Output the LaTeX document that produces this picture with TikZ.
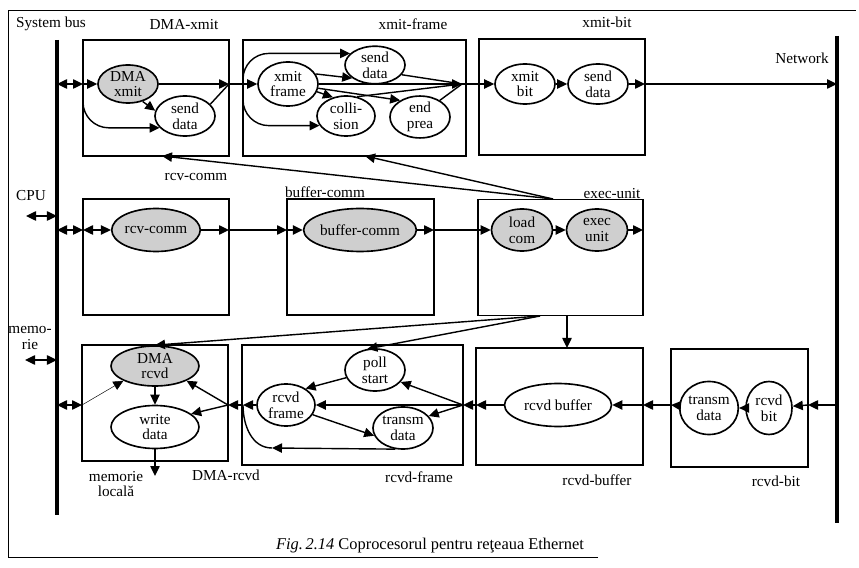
\documentclass[tikz,border=0pt]{standalone}
\usepackage{fontspec}
\setmainfont{Liberation Serif}
\usetikzlibrary{shapes.geometric, arrows.meta, calc}

\begin{document}
\begin{tikzpicture}[
        x=0.03cm, y=-0.03cm,
        >={Triangle[length=3mm, width=2.8mm]},
        font=\fontsize{13}{13.5}\selectfont,
        % Styles for blocks and processes
        block/.style={
            rectangle, draw, line width=1.4pt,
            minimum width=4.38cm, minimum height=3.48cm
        },
        proc/.style={
            ellipse, draw, line width=1.4pt, fill=white,
            inner sep=0pt, align=center,
            minimum width=1.8cm, minimum height=1.2cm
        },
        shaded/.style={fill=gray!38},
        lbl/.style={inner sep=1pt, align=center},
        % Style for connecting lines
        conn/.style={draw, line width=1.2pt},
        bus/.style={line width=3.2pt}
    ]
    \useasboundingbox (0,0) rectangle (859,568);

    % 1. FRAME AND BUSES
    \draw[line width=0.8pt] (598,557) -| (8,10) -- (856,10);
    \draw[bus] (57,40) -- (57,515);
    \draw[bus] (837,36) -- (837,523);

    % 2. BLOCKS
    \node[block]                                              (Bdx) at (156,98)    {};
    \node[block, minimum width=6.69cm]                        (Bxf) at (354.5,98)  {};
    \node[block, minimum width=4.98cm]                        (Bxb) at (562,97)    {};
    \node[block]                                              (Brc) at (156,257)   {};
    \node[block, minimum width=4.41cm]                        (Bbc) at (360.5,257) {};
    \node[block, minimum width=4.95cm]                        (Beu) at (560.5,257.5) {};
    \node[block]                                              (Bdr) at (155,403)   {};
    \node[block, minimum width=6.63cm, minimum height=3.6cm]  (Brf) at (352.5,405) {};
    \node[block, minimum width=5.01cm, minimum height=3.51cm] (Brb) at (559.5,406.5) {};
    \node[block, minimum width=4.11cm, minimum height=3.54cm] (Brt) at (739.5,408) {};

    % 3. PROCESSES
    % DMA-xmit, xmit-frame, xmit-bit
    \node[proc, shaded, minimum height=1.14cm] (DX)  at (128,84)  {DMA\\xmit};
    \node[proc]                                (SD1) at (185,116) {send\\data};
    \node[proc, minimum height=1.32cm]         (XF)  at (288,84)  {xmit\\frame};
    \node[proc, minimum height=1.02cm]         (SD2) at (375,65)  {send\\data};
    \node[proc, minimum width=1.74cm]          (CO)  at (346,116) {colli-\\sion};
    \node[proc, minimum height=1.14cm]         (EP)  at (420,117) {end\\prea};
    \node[proc]                                (XB)  at (525,84)  {xmit\\bit};
    \node[proc]                                (SD3) at (598,84)  {send\\data};

    % rcv-comm, buffer-comm, exec-unit
    \node[proc, shaded, minimum width=2.64cm, minimum height=1.29cm] (RC) at (156,230) {rcv-comm};
    \node[proc, shaded, minimum width=2.7cm, minimum height=1.29cm]  (BC) at (360,230) {buffer-comm};
    \node[proc, shaded, minimum width=1.83cm, minimum height=1.26cm] (LC) at (522,230) {load\\com};
    \node[proc, shaded, minimum width=1.83cm, minimum height=1.26cm] (EU) at (597,230) {exec\\unit};

    % DMA-rcvd, rcvd-frame, rcvd-buffer, rcvd-bit
    \node[proc, shaded, minimum width=2.64cm]                 (DR)  at (155,366) {DMA\\rcvd};
    \node[proc, minimum width=2.64cm, minimum height=1.29cm]  (WD)  at (155,427) {write\\data};
    \node[proc, minimum width=1.74cm, minimum height=1.26cm]  (RF)  at (286,405) {rcvd\\frame};
    \node[proc, minimum height=1.26cm]                        (PS)  at (375,370) {poll\\start};
    \node[proc, minimum height=1.26cm]                        (TD1) at (403,428) {transm\\data};
    \node[proc, minimum width=3.21cm, minimum height=1.29cm]  (RB)  at (558,405) {rcvd buffer};
    \node[proc, minimum width=1.38cm, minimum height=1.59cm]  (TD2) at (709,408) {transm\\data};
    \node[proc, minimum width=1.38cm, minimum height=1.59cm]  (RT)  at (769,408) {rcvd\\bit};

    % 4. LABELS
    \node[lbl] (Lsb)  at (51,24)   {System bus};
    \node[lbl] (Ldx)  at (184,25)  {DMA-xmit};
    \node[lbl] (Lxf)  at (413,24)  {xmit-frame};
    \node[lbl] (Lxb)  at (607,22)  {xmit-bit};
    \node[lbl] (Lnw)  at (802,58)  {Network};
    \node[lbl] (Lrc)  at (196,177) {rcv-comm};
    \node[lbl] (Lcpu) at (31,196)  {CPU};
    \node[lbl] (Lbc)  at (325,192) {buffer-comm};
    \node[lbl] (Leu)  at (612,194) {exec-unit};
    \node[lbl] (Lmem) at (30,338)  {memo-\\rie};
    \node[lbl] (Lml)  at (116,484) {memorie\\locală};
    \node[lbl] (Ldr)  at (226,475) {DMA-rcvd};
    \node[lbl] (Lrf)  at (419,477) {rcvd-frame};
    \node[lbl] (Lrb)  at (597,480) {rcvd-buffer};
    \node[lbl] (Lrt)  at (776,481) {rcvd-bit};
    \node[lbl, font=\fontsize{14}{15}\selectfont] (Cap) at (430,546)
        {\textit{Fig.\,2.14} Coprocesorul pentru reţeaua Ethernet};

    % 5. JUNCTIONS
    \coordinate (sb1) at (57,84);   \coordinate (dxL) at (83,84);
    \coordinate (dxR) at (229,84);  \coordinate (fxL) at (243,84);
    \coordinate (fxR) at (462,84);  \coordinate (xbR) at (645,84);
    \coordinate (nb1) at (837,84);
    \coordinate (euT) at (553,199); \coordinate (dxB) at (162,156);
    \coordinate (fxB) at (365,156);
    \coordinate (cpu) at (26,216);  \coordinate (sb2c) at (57,216);
    \coordinate (sb2) at (57,230);  \coordinate (rcL) at (83,230);
    \coordinate (rcR) at (229,230); \coordinate (bcL) at (287,230);
    \coordinate (bcR) at (434,230); \coordinate (euR) at (643,230);
    \coordinate (euD) at (567,316); \coordinate (rbT) at (567,348);
    \coordinate (euB) at (540,316);
    \coordinate (mem) at (25,360);  \coordinate (sb3m) at (57,360);
    \coordinate (sb3) at (57,405);  \coordinate (drL) at (82,405);
    \coordinate (drR) at (228,405); \coordinate (rfL) at (243,405);
    \coordinate (rfR) at (463,405); \coordinate (rbL) at (476,405);
    \coordinate (rbR) at (643,405); \coordinate (rtL) at (671,405);
    \coordinate (rtR) at (808,405); \coordinate (nb3) at (837,405);
    \coordinate (wdO) at (155,476); \coordinate (tdB) at (272,448);

    % 6. CONNECTORS
    % transmit path
    \draw[conn, <->] (sb1) -- (dxL);
    \draw[conn, ->] (dxL) -- (DX);
    \draw[conn, ->] (DX) -- (dxR);
    \draw[conn] (SD1.25) -- (dxR);
    \draw[conn, ->] (DX.-50) -- (SD1.170);
    \draw[conn, ->, rounded corners=22] (dxL) |- (SD1.205);
    \draw[conn, ->] (dxR) -- (XF);
    \draw[conn, ->, rounded corners=22] (fxL) |- (SD2.155);
    \draw[conn, ->, rounded corners=22] (fxL) |- (CO.200);
    \draw[conn, ->] (XF.20) -- (SD2.210);
    \draw[conn, ->] (XF.-15) -- (CO.125);
    \draw[conn, ->] (XF.-8) -- (EP.140);
    \draw[conn, ->] (XF) -- (fxR);
    \draw[conn] (SD2.-20) -- (fxR);
    \draw[conn] (CO.60) -- (fxR);
    \draw[conn] (EP.40) -- (fxR);
    \draw[conn, ->] (fxR) -- (XB);
    \draw[conn, ->] (XB) -- (SD3);
    \draw[conn, ->] (SD3) -- (xbR);
    \draw[conn, ->] (xbR) -- (nb1);

    % commands
    \draw[conn, ->] (euT) -- (dxB);
    \draw[conn, ->] (euT) -- (fxB);
    \draw[conn, <->] (cpu) -- (sb2c);
    \draw[conn, <->] (sb2) -- (rcL);
    \draw[conn, <->] (rcL) -- (RC);
    \draw[conn, ->] (RC) -- (rcR);
    \draw[conn, ->] (rcR) -- (bcL);
    \draw[conn, ->] (bcL) -- (BC);
    \draw[conn, ->] (BC) -- (bcR);
    \draw[conn, ->] (bcR) -- (LC);
    \draw[conn, ->] (LC) -- (EU);
    \draw[conn, ->] (EU) -- (euR);
    \draw[conn, ->] (euD) -- (rbT);
    \draw[conn, ->] (euB) -- (DR.north);
    \draw[conn, ->] (euB) -- (PS.110);

    % receive path
    \draw[conn, <->] (mem) -- (sb3m);
    \draw[conn, <->] (sb3) -- (drL);
    \draw[conn, ->, thin] (drL) -- (DR.205);
    \draw[conn, ->] (DR) -- (WD);
    \draw[conn, ->] (WD) -- (wdO);
    \draw[conn, ->] (drR) -- (DR.-25);
    \draw[conn, ->] (drR) -- (WD.20);
    \draw[conn, ->] (rfL) -- (drR);
    \draw[conn, ->] (RF) -- (rfL);
    \draw[conn, ->] (rfR) -- (RF);
    \draw[conn, ->] (rfR) -- (PS.-25);
    \draw[conn, ->] (rfR) -- (TD1.25);
    \draw[conn, ->] (PS.195) -- (RF.40);
    \draw[conn, ->] (RF.-20) -- (TD1.195);
    \draw[conn, ->] (TD1.250) -- (tdB);
    \draw[conn] (tdB) to[out=180, in=-90] (rfL);
    \draw[conn, ->] (rbL) -- (rfR);
    \draw[conn, ->] (RB) -- (rbL);
    \draw[conn, ->] (rbR) -- (RB);
    \draw[conn, ->] (rtL) -- (rbR);
    \draw[conn, ->] (TD2) -- (rtL);
    \draw[conn, ->] (RT) -- (TD2);
    \draw[conn, ->] (rtR) -- (RT);
    \draw[conn, ->] (nb3) -- (rtR);

    \end{tikzpicture}
\end{document}
